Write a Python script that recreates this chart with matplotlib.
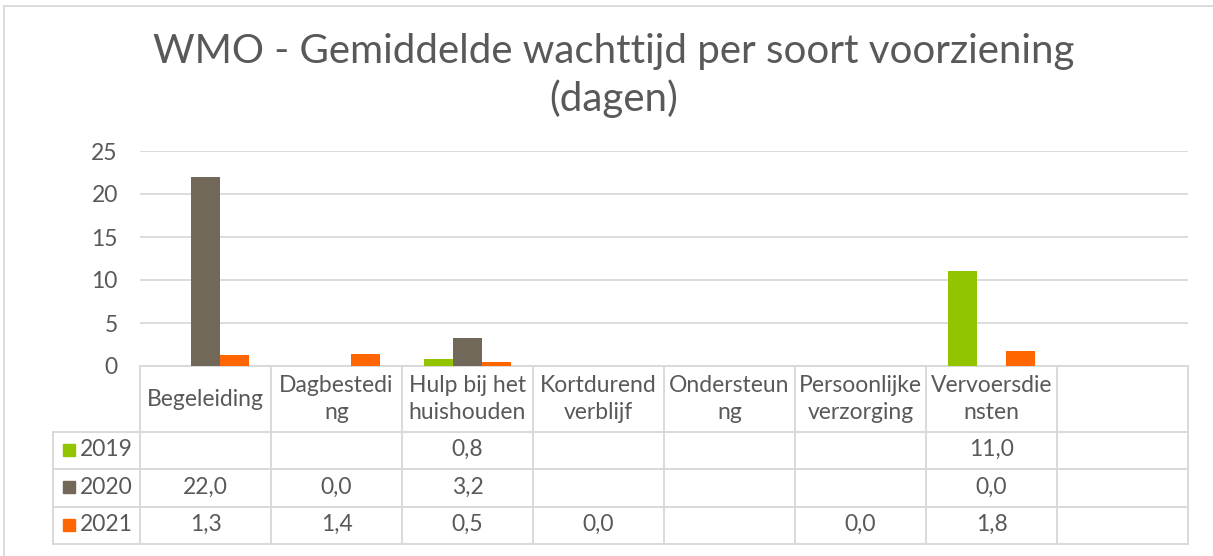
import numpy as np
import matplotlib
matplotlib.use("Agg")
import matplotlib.pyplot as plt
from matplotlib.patches import Rectangle

# ---- data ----
categories = ["Begeleiding", "Dagbesteding", "Hulp bij het huishouden", "Kortdurend verblijf",
              "Ondersteuning", "Persoonlijke verzorging", "Vervoersdiensten", ""]
header_labels = ["Begeleiding", "Dagbestedi\nng", "Hulp bij het\nhuishouden", "Kortdurend\nverblijf",
                 "Ondersteun\nng", "Persoonlijke\nverzorging", "Vervoersdie\nnsten", ""]
years = ["2019", "2020", "2021"]
v2019 = [np.nan, np.nan, 0.8, np.nan, np.nan, np.nan, 11.0, np.nan]
v2020 = [22.0, 0.0, 3.2, np.nan, np.nan, np.nan, 0.0, np.nan]
v2021 = [1.3, 1.4, 0.5, 0.0, np.nan, 0.0, 1.8, np.nan]
series = [v2019, v2020, v2021]
colors = ["#92C400", "#72685A", "#FF6600"]
yticks = [0, 5, 10, 15, 20, 25]
title_lines = ["WMO - Gemiddelde wachttijd per soort voorziening", "(dagen)"]

FONT = ["Lato", "DejaVu Sans"]
TXT = "#595959"
GRID = "#D9D9D9"
W, H = 1213, 556
plt.rcParams['font.family'] = FONT
FS = 16.5

fig = plt.figure(figsize=(W / 100, H / 100), dpi=100)

def fx(px):
    return px / W

def fy(py):
    return 1 - py / H

# outer chart border
fig.patches.append(Rectangle((fx(4), fy(600)), fx(1260) - fx(4), fy(6) - fy(600),
                             transform=fig.transFigure, fill=False, edgecolor=GRID, lw=1.3))

x_left, x_right, y_top, y_bot = 140, 1188, 151, 366
ax = fig.add_axes([fx(x_left), fy(y_bot), fx(x_right) - fx(x_left), fy(y_top) - fy(y_bot)])

n = len(categories)
x = np.arange(n)
bw = 0.222
for i, (vals, c) in enumerate(zip(series, colors)):
    vv = np.nan_to_num(np.array(vals, dtype=float), nan=0.0)
    ax.bar(x + (i - 1) * bw, vv, width=bw, color=c, edgecolor="none", zorder=3)

ax.set_xlim(-0.5, n - 0.5)
ax.set_ylim(0, 25)
ax.set_yticks(yticks)
ax.set_yticklabels([str(t) for t in yticks], fontsize=FS, color=TXT)
ax.yaxis.grid(True, color=GRID, lw=1.3, zorder=0)
ax.tick_params(axis="y", length=0, pad=16)
ax.set_xticks([])
for s in ax.spines.values():
    s.set_visible(False)

fig.text(0.506, fy(63), title_lines[0], ha="center", va="baseline", fontsize=29, color=TXT)
fig.text(0.506, fy(111), title_lines[1], ha="center", va="baseline", fontsize=29, color=TXT)

# ---- data table ----
axh = y_bot - y_top  # pixels
def ay(py):
    return (y_bot - py) / axh

tr = ax.get_xaxis_transform()
row_h = [366, 432, 469, 507, 544]
x_leg = -0.5 - (140 - 53) / 131.0
line_kw = dict(color=GRID, lw=1.4, transform=tr, clip_on=False, zorder=1)
ax.plot([-0.5, n - 0.5], [ay(366)] * 2, **line_kw)
for py in row_h[1:]:
    ax.plot([x_leg, n - 0.5], [ay(py)] * 2, **line_kw)
for b in np.arange(n + 1) - 0.5:
    ax.plot([b, b], [ay(366), ay(544)], **line_kw)
ax.plot([x_leg, x_leg], [ay(432), ay(544)], **line_kw)

# header labels
for i, lab in enumerate(header_labels):
    ax.text(i, ay(399), lab, transform=tr, ha="center", va="center", fontsize=FS,
            color=TXT, linespacing=1.3, clip_on=False)

# rows
for r, (yr, vals, c) in enumerate(zip(years, series, colors)):
    yc = ay((row_h[r + 1] + row_h[r + 2]) / 2 - 1)
    ax.plot([x_leg + (68.5 - 53) / 131.0], [yc], marker="s", ms=9.3, color=c, transform=tr,
            clip_on=False, linestyle="none")
    ax.text(x_leg + (80 - 53) / 131.0, yc, yr, transform=tr, ha="left", va="center",
            fontsize=FS, color=TXT, clip_on=False)
    for i, v in enumerate(vals):
        if not np.isnan(v):
            ax.text(i, yc, f"{v:.1f}".replace(".", ","), transform=tr, ha="center",
                    va="center", fontsize=FS, color=TXT, clip_on=False)

fig.savefig("out.png", dpi=100)
